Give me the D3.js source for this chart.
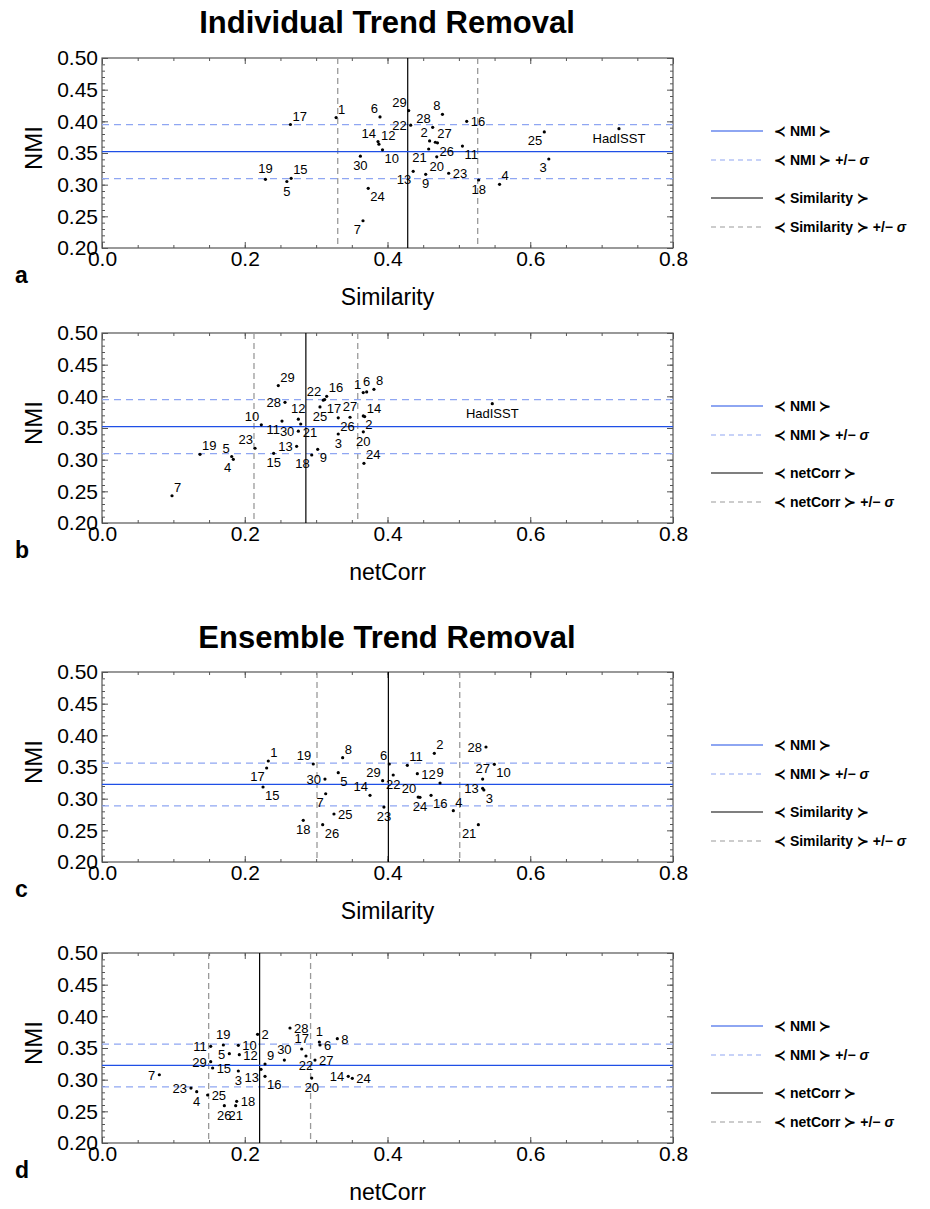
<!DOCTYPE html>
<html>
<head>
<meta charset="utf-8">
<script src="https://cdnjs.cloudflare.com/ajax/libs/d3/7.8.5/d3.min.js"></script>
<style>
body { margin: 0; background: #fff; }
text { font-family: "Liberation Sans", Arial, Helvetica, sans-serif; }
</style>
</head>
<body>
<div id="chart"></div>
<script>
// runs 1..30 (+ observations for the individual trend removal case)
var runLabels = d3.range(1, 31).map(String);
var indLabels = runLabels.concat(["HadISST"]);

// Individual trend removal: NMI, Similarity, netCorr (last entry = HadISST)
var nmiInd = [0.406, 0.369, 0.3405, 0.3005, 0.305, 0.407, 0.243, 0.411, 0.3163, 0.355,
  0.361, 0.364, 0.321, 0.368, 0.310, 0.400, 0.395, 0.3074, 0.3085, 0.344,
  0.3563, 0.394, 0.318, 0.2942, 0.3832, 0.366, 0.367, 0.3906, 0.417, 0.345, 0.3884];
var simInd = [0.328, 0.459, 0.626, 0.557, 0.259, 0.3895, 0.3657, 0.477, 0.4535, 0.393,
  0.505, 0.388, 0.436, 0.3867, 0.265, 0.511, 0.264, 0.5277, 0.229, 0.469,
  0.4577, 0.4325, 0.4857, 0.373, 0.6197, 0.470, 0.467, 0.4633, 0.4297, 0.362, 0.7243];
var netCorrInd = [0.366, 0.3661, 0.331, 0.184, 0.1817, 0.3708, 0.0981, 0.381, 0.3022, 0.2232,
  0.2522, 0.2751, 0.2727, 0.368, 0.2405, 0.3148, 0.312, 0.2938, 0.1373, 0.3661,
  0.2784, 0.3101, 0.2144, 0.367, 0.3054, 0.331, 0.3475, 0.2564, 0.247, 0.2751, 0.5468];

// Ensemble trend removal
var nmiEns = [0.3595, 0.3716, 0.3137, 0.281, 0.341, 0.3547, 0.3078, 0.3647, 0.3247, 0.3543,
  0.3527, 0.3394, 0.3164, 0.3053, 0.3184, 0.3053, 0.3484, 0.2658, 0.3547, 0.3025,
  0.2589, 0.3374, 0.2868, 0.3021, 0.2758, 0.2589, 0.331, 0.3816, 0.3284, 0.331];
var simEns = [0.233, 0.4656, 0.535, 0.4922, 0.331, 0.4025, 0.3134, 0.3372, 0.4736, 0.5497,
  0.4278, 0.4418, 0.5333, 0.3755, 0.2256, 0.461, 0.2307, 0.282, 0.296, 0.443,
  0.5273, 0.408, 0.395, 0.4455, 0.325, 0.3092, 0.5333, 0.538, 0.3932, 0.3124];
var netCorrEns = [0.3045, 0.218, 0.191, 0.1327, 0.1784, 0.3054, 0.0803, 0.3297, 0.2284, 0.191,
  0.1523, 0.1924, 0.2228, 0.345, 0.155, 0.2284, 0.2798, 0.1887, 0.170, 0.2938,
  0.1873, 0.2858, 0.1247, 0.3507, 0.148, 0.1714, 0.2984, 0.2634, 0.1523, 0.2555];

var xTicks = [0, 0.2, 0.4, 0.6, 0.8];
var yTicks = [0.20, 0.25, 0.30, 0.35, 0.40, 0.45, 0.50];

// where each point label sits relative to its dot
var posA = "ne nw sw ne s nw sw nw s se se ne sw nw ne e ne s n s sw w e se sw se ne nw nw s s".split(" ");
var posB = "nw se s sw nw n ne ne se nw sw n w ne s ne se sw ne s se nw nw ne s se n w ne w s".split(" ");
var posC = "ne ne se ne se nw sw ne n se ne e w nw se se sw s nw nw sw s s s e se n w nw w".split(" ");
var posD = "n e s s w e w e ne e w e sw w e se n e n s s s w e e s e e w n".split(" ");

var W = 930, H = 1209;
var left = 102, right = 673;
var blue = "#1f4fe6", lightBlue = "#8fa6f2", gray = "#9a9a9a", frameCol = "#555";

var svg = d3.select("#chart").append("svg").attr("width", W).attr("height", H);

var x = d3.scaleLinear().domain([0, 0.8]).range([left, right]);

svg.append("text").attr("x", 387).attr("y", 33).attr("text-anchor", "middle")
  .style("font-weight", "bold").style("font-size", "31px").text("Individual Trend Removal");
svg.append("text").attr("x", 387).attr("y", 648).attr("text-anchor", "middle")
  .style("font-weight", "bold").style("font-size", "31px").text("Ensemble Trend Removal");

var panels = [
  {letter: "a", top: 58, bottom: 248, xName: "Similarity", xs: simInd, ys: nmiInd, labels: indLabels, pos: posA},
  {letter: "b", top: 333, bottom: 523, xName: "netCorr", xs: netCorrInd, ys: nmiInd, labels: indLabels, pos: posB},
  {letter: "c", top: 672, bottom: 862, xName: "Similarity", xs: simEns, ys: nmiEns, labels: runLabels, pos: posC},
  {letter: "d", top: 953, bottom: 1143, xName: "netCorr", xs: netCorrEns, ys: nmiEns, labels: runLabels, pos: posD}
];

var offs = {
  n:  {dx: 0,  dy: -6,  a: "middle"},
  s:  {dx: 0,  dy: 14,  a: "middle"},
  e:  {dx: 4,  dy: 5,   a: "start"},
  w:  {dx: -4, dy: 5,   a: "end"},
  ne: {dx: 2,  dy: -4,  a: "start"},
  nw: {dx: -2, dy: -4,  a: "end"},
  se: {dx: 2,  dy: 13,  a: "start"},
  sw: {dx: -2, dy: 13,  a: "end"}
};

panels.forEach(function(p) {
  var y = d3.scaleLinear().domain([0.2, 0.5]).range([p.bottom, p.top]);
  var g = svg.append("g");

  // statistics over the 30 runs
  var xr = p.xs.slice(0, 30), yr = p.ys.slice(0, 30);
  var mx = d3.mean(xr), sx = d3.deviation(xr);
  var my = d3.mean(yr), sy = d3.deviation(yr);

  // ticks (inward, on all four sides)
  var minorX = d3.range(0, 0.801, 0.05), minorY = d3.range(0.2, 0.5001, 0.01);
  g.append("g").attr("transform", "translate(0," + p.bottom + ")")
    .call(d3.axisBottom(x).tickValues(minorX).tickSize(-3).tickFormat(""));
  g.append("g").attr("transform", "translate(0," + p.bottom + ")")
    .call(d3.axisBottom(x).tickValues(xTicks).tickSize(-6).tickPadding(3).tickFormat(d3.format(".1f")));
  g.append("g").attr("transform", "translate(0," + p.top + ")")
    .call(d3.axisTop(x).tickValues(minorX).tickSize(-3).tickFormat(""));
  g.append("g").attr("transform", "translate(0," + p.top + ")")
    .call(d3.axisTop(x).tickValues(xTicks).tickSize(-6).tickFormat(""));
  g.append("g").attr("transform", "translate(" + left + ",0)")
    .call(d3.axisLeft(y).tickValues(minorY).tickSize(-3).tickFormat(""));
  g.append("g").attr("transform", "translate(" + left + ",0)")
    .call(d3.axisLeft(y).tickValues(yTicks).tickSize(-6).tickPadding(4).tickFormat(d3.format(".2f")));
  g.append("g").attr("transform", "translate(" + right + ",0)")
    .call(d3.axisRight(y).tickValues(minorY).tickSize(-3).tickFormat(""));
  g.append("g").attr("transform", "translate(" + right + ",0)")
    .call(d3.axisRight(y).tickValues(yTicks).tickSize(-6).tickFormat(""));
  g.selectAll(".domain").remove();
  g.selectAll(".tick line").attr("stroke", frameCol);
  g.selectAll(".tick text").style("font-size", "21px").attr("fill", "#000");

  g.append("rect").attr("x", left).attr("y", p.top).attr("width", right - left)
    .attr("height", p.bottom - p.top).attr("fill", "none").attr("stroke", frameCol).attr("stroke-width", 1.2);

  // mean and +/- sigma lines
  [mx - sx, mx + sx].forEach(function(v) {
    g.append("line").attr("x1", x(v)).attr("x2", x(v)).attr("y1", p.top).attr("y2", p.bottom)
      .attr("stroke", gray).attr("stroke-width", 1.3).attr("stroke-dasharray", "6,4");
  });
  [my - sy, my + sy].forEach(function(v) {
    g.append("line").attr("x1", left).attr("x2", right).attr("y1", y(v)).attr("y2", y(v))
      .attr("stroke", lightBlue).attr("stroke-width", 1.3).attr("stroke-dasharray", "7,5");
  });
  g.append("line").attr("x1", x(mx)).attr("x2", x(mx)).attr("y1", p.top).attr("y2", p.bottom)
    .attr("stroke", "#000").attr("stroke-width", 1.2);
  g.append("line").attr("x1", left).attr("x2", right).attr("y1", y(my)).attr("y2", y(my))
    .attr("stroke", blue).attr("stroke-width", 1.3);

  // points and labels
  var pts = p.labels.map(function(l, i) { return {label: l, x: p.xs[i], y: p.ys[i], pos: p.pos[i]}; });
  g.selectAll("circle.pt").data(pts).join("circle").attr("class", "pt")
    .attr("cx", function(d) { return x(d.x); }).attr("cy", function(d) { return y(d.y); })
    .attr("r", 1.6).attr("fill", "#000");
  g.selectAll("text.lbl").data(pts).join("text").attr("class", "lbl")
    .attr("x", function(d) { return x(d.x) + offs[d.pos].dx; })
    .attr("y", function(d) { return y(d.y) + offs[d.pos].dy; })
    .attr("text-anchor", function(d) { return offs[d.pos].a; })
    .style("font-size", "13px").text(function(d) { return d.label; });

  // axis titles and panel letter
  g.append("text").attr("x", (left + right) / 2).attr("y", p.bottom + 57).attr("text-anchor", "middle")
    .style("font-size", "23px").text(p.xName);
  g.append("text").attr("transform", "translate(42," + ((p.top + p.bottom) / 2 - 5) + ") rotate(-90)")
    .attr("text-anchor", "middle").style("font-size", "24px").text("NMI");
  g.append("text").attr("x", 15).attr("y", p.bottom + 35).style("font-size", "23px")
    .style("font-weight", "bold").text(p.letter);

  // legend
  var leg = [
    {name: "NMI", sig: false, col: blue, dash: null},
    {name: "NMI", sig: true, col: lightBlue, dash: "5,4"},
    {name: p.xName, sig: false, col: "#000", dash: null},
    {name: p.xName, sig: true, col: gray, dash: "5,4"}
  ];
  var legY = [73, 102, 140, 169];
  leg.forEach(function(d, i) {
    var ly = p.top + legY[i];
    g.append("line").attr("x1", 711).attr("x2", 763).attr("y1", ly).attr("y2", ly)
      .attr("stroke", d.col).attr("stroke-width", 1.2).attr("stroke-dasharray", d.dash);
    var t = g.append("text").attr("x", 774).attr("y", ly + 5).style("font-size", "14px").style("font-weight", "bold");
    t.append("tspan").text("\u227A " + d.name + " \u227B");
    if (d.sig) {
      t.append("tspan").text(" +/\u2212 ");
      t.append("tspan").style("font-style", "italic").text("\u03C3");
    }
  });
});
</script>
</body>
</html>
